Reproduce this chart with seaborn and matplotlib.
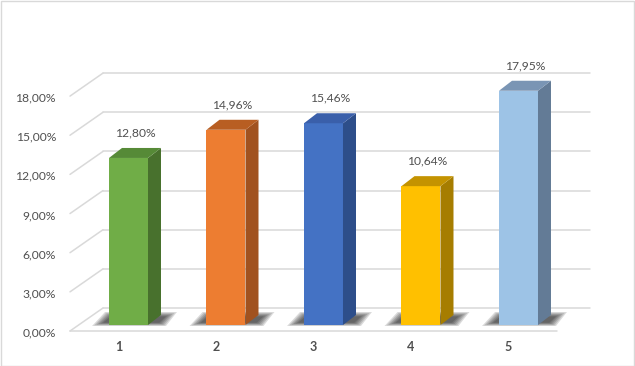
import pandas as pd
import matplotlib
matplotlib.use("Agg")
import matplotlib.pyplot as plt
import matplotlib.transforms as mtransforms
from matplotlib.patches import Polygon, Rectangle
import seaborn as sns

# Daten
kategorien = ["1", "2", "3", "4", "5"]
werte = [12.80, 14.96, 15.46, 10.64, 17.95]
y_ticks = [0, 3, 6, 9, 12, 15, 18]

farben_vorne = ["#70ad47", "#ed7d31", "#4472c4", "#ffc000", "#9dc3e6"]
farben_seite = ["#48712d", "#a1521f", "#2d4e8a", "#a67d00", "#637b96"]
farben_oben = ["#568a37", "#b85e22", "#3a5faa", "#c49300", "#7a95b4"]

sns.set_theme(style="white")
plt.rcParams["font.family"] = ["Lato", "DejaVu Sans"]
textfarbe = "#505050"
gitterfarbe = "#d9d9d9"

fig = plt.figure(figsize=(6.35, 3.66), dpi=100)
# Achse = Vorderseite der Säulen
ax = fig.add_axes([60 / 635, 26 / 366, 540 / 635, 320 / 366])
ax.axis("off")

df = pd.DataFrame({"Kategorie": kategorien, "Wert": werte})
sns.barplot(data=df, x="Kategorie", y="Wert", hue="Kategorie",
            palette=farben_vorne, saturation=1, width=0.4, legend=False,
            ax=ax, zorder=3, linewidth=0)
ax.set_xlim(-0.7026, 4.836)
ax.set_ylim(-1.149, 23.372)

# Ebenen (pseudo-3D)
vorne = mtransforms.offset_copy(ax.transData, fig=fig, x=0, y=-6, units="dots")
hinten = mtransforms.offset_copy(ax.transData, fig=fig, x=33, y=17, units="dots")
x_links, x_rechts = -0.6, 4.395

for t in y_ticks:
    ax.plot([x_links, x_rechts], [t, t], color=gitterfarbe, lw=1.1,
            transform=hinten, zorder=1, clip_on=False)
    a = vorne.transform((x_links, t))
    b = hinten.transform((x_links, t))
    ax.plot([a[0], b[0]], [a[1], b[1]], color=gitterfarbe, lw=1.1,
            transform=mtransforms.IdentityTransform(), zorder=1, clip_on=False)
ax.plot([x_links, x_rechts], [0, 0], color=gitterfarbe, lw=1.1,
        transform=vorne, zorder=1, clip_on=False)

ident = mtransforms.IdentityTransform()
dx, dy = 13, 10
for i, p in enumerate(ax.patches):
    x0, w, h = p.get_x(), p.get_width(), p.get_height()
    X0, Y0 = ax.transData.transform((x0, 0))
    X1, Y1 = ax.transData.transform((x0 + w, h))
    # Schatten
    for k in range(6):
        s = k * 2.2
        schatten = [(X0 - 17 + s, Y0 - 1 + s * 0.3), (X1 + 18 - s * 0.6, Y0 - 1 + s * 0.3),
                    (X1 + 29 - s, Y0 + 13 - s * 0.4), (X0 - 4 + s * 0.5, Y0 + 13 - s * 0.4)]
        ax.add_patch(Polygon(schatten, closed=True, facecolor="black", alpha=0.14,
                             edgecolor="none", transform=ident, zorder=2))
    seite = [(X1, Y0), (X1 + dx, Y0 + dy), (X1 + dx, Y1 + dy), (X1, Y1)]
    oben = [(X0, Y1), (X1, Y1), (X1 + dx, Y1 + dy), (X0 + dx, Y1 + dy)]
    ax.add_patch(Polygon(seite, closed=True, facecolor=farben_seite[i],
                         edgecolor="none", transform=ident, zorder=3))
    ax.add_patch(Polygon(oben, closed=True, facecolor=farben_oben[i],
                         edgecolor="none", transform=ident, zorder=3))

# Beschriftungen
y_lab = mtransforms.offset_copy(ax.transData, fig=fig, x=-14, y=-8, units="dots")
for t in y_ticks:
    ax.text(x_links, t, f"{t:.2f}".replace(".", ",") + "%", transform=y_lab,
            ha="right", va="center", fontsize=8.7, color=textfarbe)

x_lab = mtransforms.offset_copy(ax.transData, fig=fig, x=-10, y=-22, units="dots")
for i, k in enumerate(kategorien):
    ax.text(i, 0, k, transform=x_lab, ha="center", va="center",
            fontsize=9, fontweight="bold", color=textfarbe)

wert_lab = mtransforms.offset_copy(ax.transData, fig=fig, x=6.5, y=25, units="dots")
for i, v in enumerate(werte):
    ax.text(i, v, f"{v:.2f}".replace(".", ",") + "%", transform=wert_lab,
            ha="center", va="center", fontsize=8.7, color=textfarbe)

fig.add_artist(Rectangle((0.5 / 635, 0.5 / 366), 1 - 1.5 / 635, 1 - 1.5 / 366,
                         transform=fig.transFigure, fill=False,
                         edgecolor=gitterfarbe, lw=1))

fig.savefig("out.png", dpi=100, facecolor="white")
